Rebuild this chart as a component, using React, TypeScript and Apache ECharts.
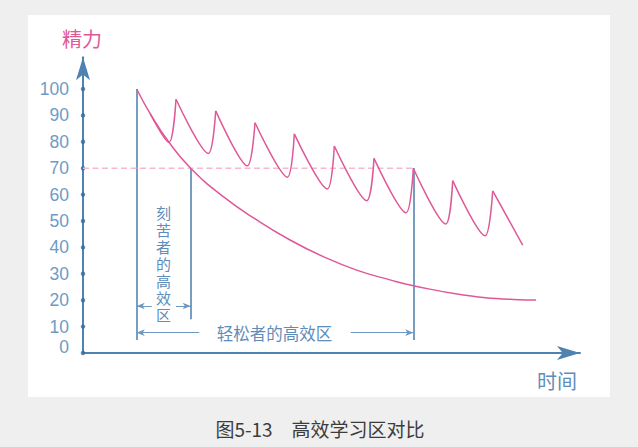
import React, { useEffect, useRef } from 'react';
import * as echarts from 'echarts';

// ---- data (x: time units, y: energy) ----
const yTicks = [0, 10, 20, 30, 40, 50, 60, 70, 80, 90, 100];

const decayX = [53.7, 67, 86, 107.7, 140.3, 173.7, 207, 240.3, 273.7, 307, 330.3, 380.3, 430.3, 453];
const decayY = [100, 90.8, 79.8, 70, 59.2, 50.4, 42.8, 36.5, 31.4, 27.7, 25.5, 22, 20.3, 20.1];

const peakX = [53.7, 93, 132.7, 172, 211.3, 251.3, 291, 330.3, 369.7, 409.7];
const peakY = [100, 96.1, 91.7, 87.2, 83, 78.4, 73.7, 70, 65.3, 61.4];
const troughX = [86, 125.3, 164.3, 204.3, 244.3, 283.7, 323, 362.7, 402];
const troughY = [79.8, 75.6, 70.9, 66.6, 62.1, 57.7, 53.1, 48.9, 44.4];
const lastPoint = [439.7, 40.9];

const thresholdY = 70;
// vertical markers: x, top, bottom
const markX = [53.7, 107.7, 330.3];
const markTop = [100, 70, 70];
const markBottom = [4.9, 12.8, 4.9];
// zone arrows: y level, start of shaft (x)
const hardArrowY = 17.8;
const hardArrowFrom = [68.7, 93];
const easyArrowY = 7.7;
const easyArrowFrom = [116.3, 267.7];

const hardLabel = ['刻', '苦', '者', '的', '高', '效', '区'];

const PINK = '#df5897';
const AXIS = '#4f82b0';
const LABEL = '#6d9bc6';
const MARK = '#4a7dab';
const TEXTBLUE = '#5f8dba';
const FONT = '"Noto Sans CJK SC", "Noto Sans", sans-serif';
const COMPACT = '"Liberation Sans", "Noto Sans CJK SC", sans-serif';
const NUMFONT = '"Liberation Sans", Arial, sans-serif';

export default function App() {
  const ref = useRef<HTMLDivElement>(null);

  useEffect(() => {
    const chart = echarts.init(ref.current!, null, { renderer: 'svg', width: 638, height: 447 });

    const teeth: any[] = [];
    for (let i = 0; i < troughX.length; i++) {
      // the first tooth's decay follows the smooth decay curve
      const start = i === 0 ? [decayX[1], decayY[1]] : [peakX[i], peakY[i]];
      teeth.push({
        type: 'line',
        smooth: 0.3,
        symbol: 'none',
        silent: true,
        lineStyle: { color: PINK, width: 1.5 },
        data: [start, [troughX[i], troughY[i]], [peakX[i + 1], peakY[i + 1]]],
      });
    }
    teeth.push({
      type: 'line',
      symbol: 'none',
      silent: true,
      lineStyle: { color: PINK, width: 1.5 },
      data: [[peakX[peakX.length - 1], peakY[peakY.length - 1]], lastPoint],
    });

    const option: any = {
      animation: false,
      backgroundColor: 'transparent',
      grid: { left: 83, right: 58, top: 57.3, bottom: 94, containLabel: false, outerBoundsMode: 'none' },
      xAxis: {
        type: 'value',
        min: 0,
        max: 497,
        axisLine: { show: true, symbol: ['none', 'arrow'], symbolSize: [10.5, 23], lineStyle: { color: AXIS, width: 2 } },
        axisTick: { show: false },
        axisLabel: { show: false },
        splitLine: { show: false },
      },
      yAxis: {
        type: 'value',
        min: 0,
        max: 112,
        interval: 10,
        axisLine: { show: true, symbol: ['none', 'arrow'], symbolSize: [10.5, 23], lineStyle: { color: AXIS, width: 2 } },
        axisTick: { show: false },
        splitLine: { show: false },
        axisLabel: {
          margin: 14,
          color: LABEL,
          fontSize: 17.5,
          fontFamily: NUMFONT,
          formatter: (v: number) => (v > 100 ? '' : v === 0 ? '{z|0}' : String(v)),
          rich: { z: { padding: [0, 0, 12, 0], color: LABEL, fontSize: 17.5, fontFamily: NUMFONT } },
        },
      },
      series: [
        {
          type: 'line',
          symbol: 'none',
          silent: true,
          lineStyle: { color: '#f5b8d0', width: 1.5, type: [6, 3.5] },
          data: [[0, thresholdY], [markX[2], thresholdY]],
        },
        {
          type: 'line',
          smooth: true,
          symbol: 'none',
          silent: true,
          lineStyle: { color: PINK, width: 1.5 },
          data: decayX.map((x, i) => [x, decayY[i]]),
        },
        ...teeth,
        {
          type: 'lines',
          coordinateSystem: 'cartesian2d',
          silent: true,
          lineStyle: { color: MARK, width: 1.5, opacity: 1 },
          data: markX.map((x, i) => ({ coords: [[x, markTop[i]], [x, markBottom[i]]] })),
        },
        {
          type: 'lines',
          coordinateSystem: 'cartesian2d',
          silent: true,
          symbol: ['none', 'arrow'],
          symbolSize: [[5, 8], [5, 8]],
          lineStyle: { color: '#6f98c1', width: 1.2, opacity: 1 },
          data: [
            { coords: [[hardArrowFrom[0], hardArrowY], [markX[0], hardArrowY]] },
            { coords: [[hardArrowFrom[1], hardArrowY], [markX[1], hardArrowY]] },
            { coords: [[easyArrowFrom[0], easyArrowY], [markX[0], easyArrowY]] },
            { coords: [[easyArrowFrom[1], easyArrowY], [markX[2], easyArrowY]] },
          ],
        },
        {
          type: 'scatter',
          symbol: 'circle',
          symbolSize: 4.5,
          silent: true,
          itemStyle: { color: '#3b6d9b' },
          data: yTicks.map((v) => [0, v]),
        },
      ],
      graphic: [
        {
          type: 'text',
          x: 82,
          y: 38,
          style: { text: '精力', fill: PINK, fontSize: 20, fontFamily: FONT, textAlign: 'center', textVerticalAlign: 'middle' },
        },
        {
          type: 'text',
          x: 557,
          y: 380,
          style: { text: '时间', fill: TEXTBLUE, fontSize: 20, fontFamily: FONT, textAlign: 'center', textVerticalAlign: 'middle' },
        },
        {
          type: 'text',
          x: 163.5,
          y: 264,
          style: {
            text: hardLabel.join('\n'),
            fill: TEXTBLUE,
            fontSize: 15,
            lineHeight: 17,
            fontFamily: COMPACT,
            textAlign: 'center',
            textVerticalAlign: 'middle',
          },
        },
        {
          type: 'text',
          x: 274.5,
          y: 332.5,
          style: { text: '轻松者的高效区', fill: TEXTBLUE, fontSize: 16.5, fontFamily: FONT, textAlign: 'center', textVerticalAlign: 'middle' },
        },
        {
          type: 'text',
          x: 320,
          y: 428,
          style: { text: '图5-13　高效学习区对比', fill: '#3c3c3c', fontSize: 19, fontFamily: FONT, textAlign: 'center', textVerticalAlign: 'middle' },
        },
      ],
    };

    chart.setOption(option);
    return () => chart.dispose();
  }, []);

  return (
    <div style={{ position: 'absolute', left: 0, top: 0, width: 638, height: 447, background: '#efefef' }}>
      <div style={{ position: 'absolute', left: 28, top: 15, width: 582, height: 382, background: '#ffffff' }} />
      <div ref={ref} style={{ position: 'absolute', left: 0, top: 0, width: 638, height: 447 }} />
    </div>
  );
}
